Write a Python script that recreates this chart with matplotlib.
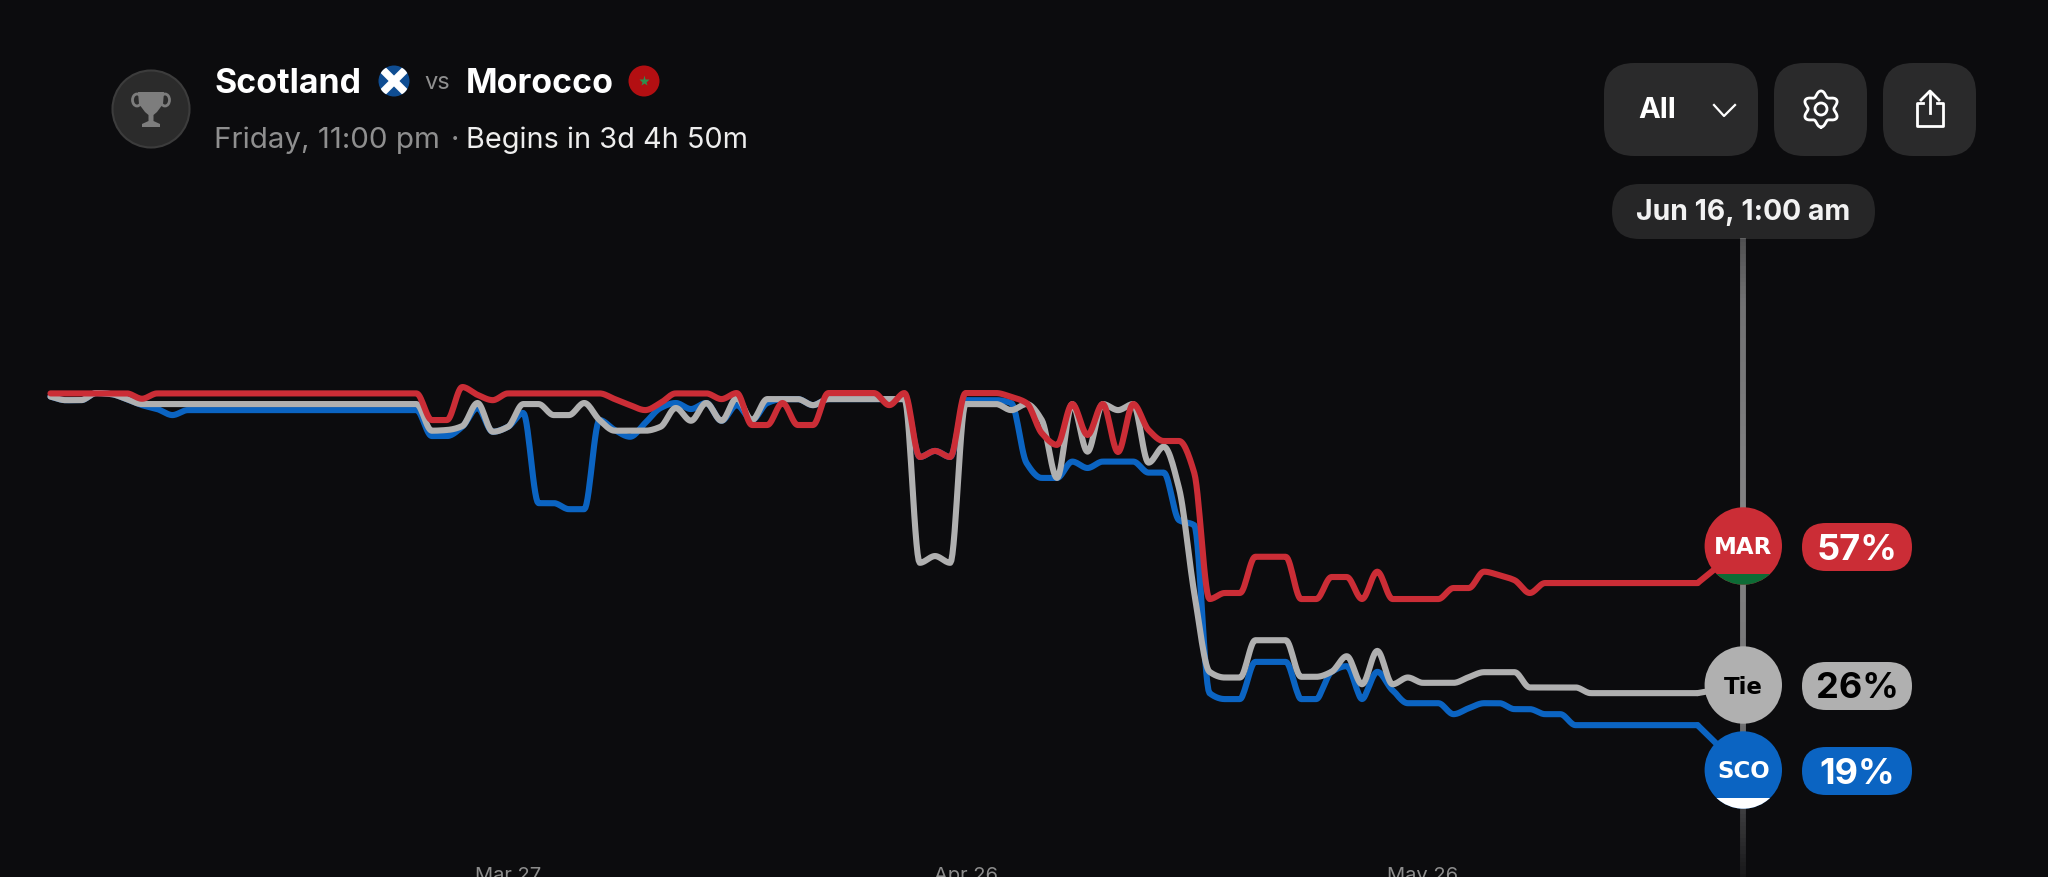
import numpy as np
import matplotlib
matplotlib.use('Agg')
import matplotlib.pyplot as plt
from matplotlib.patches import Circle, Rectangle, FancyBboxPatch, Polygon, Ellipse
from matplotlib.collections import LineCollection

plt.rcParams['font.family'] = ['Inter', 'DejaVu Sans']

BG = '#0c0c0e'
PANEL = '#2a2a2b'
RED = '#cb2d36'
BLUE = '#0b64c2'
GREY = '#b0b0b0'

# days relative to Mar 27
days = list(range(-30, 79))

morocco = [
    110.4, 110.4, 110.4, 110.4, 110.4, 110.4, 108.9, 110.4, 110.4, 110.4,
    110.4, 110.4, 110.4, 110.4, 110.4, 110.4, 110.4, 110.4, 110.4, 110.4,
    110.4, 110.4, 110.4, 110.4, 110.4, 102.9, 102.9, 112.2, 110.0, 108.5,
    110.4, 110.4, 110.4, 110.4, 110.4, 110.4, 110.4, 108.8, 107.1, 105.7,
    107.7, 110.4, 110.4, 110.4, 108.8, 110.5, 101.5, 101.5, 107.7, 101.5,
    101.5, 110.5, 110.5, 110.5, 110.5, 107.1, 110.5, 92.5, 94.2, 92.5,
    110.5, 110.5, 110.5, 109.4, 107.7, 99.2, 95.9, 107.4, 98.7, 107.4,
    93.9, 107.4, 100.1, 97.0, 97.0, 88.0, 52.5, 54.2, 54.2, 64.4,
    64.4, 64.4, 52.5, 52.5, 58.7, 58.7, 52.5, 60.2, 52.5, 52.5,
    52.5, 52.5, 55.6, 55.6, 60.2, 59.2, 57.8, 54.2, 57, 57,
    57, 57, 57, 57, 57, 57, 57, 57, 57,
]
tie = [
    109.5, 108.5, 108.5, 110.5, 110.2, 108.8, 107.4, 107.4, 107.4, 107.4,
    107.4, 107.4, 107.4, 107.4, 107.4, 107.4, 107.4, 107.4, 107.4, 107.4,
    107.4, 107.4, 107.4, 107.4, 107.4, 99.9, 100.1, 101.2, 107.7, 99.6,
    101.0, 107.4, 107.4, 104.3, 104.3, 107.7, 102.9, 99.9, 99.9, 99.9,
    101.0, 106.3, 102.7, 107.7, 102.7, 109.1, 102.9, 108.8, 108.8, 108.8,
    107.1, 108.8, 108.8, 108.8, 108.8, 108.8, 108.8, 62.7, 64.6, 62.7,
    107.4, 107.4, 107.4, 105.7, 107.4, 102.9, 86.6, 107.4, 94.0, 107.4,
    105.7, 107.4, 90.9, 95.4, 83.7, 54.2, 32.0, 30.4, 30.4, 40.9,
    40.9, 40.9, 30.6, 30.6, 32.0, 36.4, 28.5, 37.9, 28.5, 30.4,
    28.9, 28.9, 28.9, 30.5, 31.9, 31.9, 31.9, 27.6, 27.6, 27.6,
    27.6, 26, 26, 26, 26, 26, 26, 26, 26,
]
scotland = [
    109.5, 108.5, 108.5, 110.5, 110.2, 108.8, 107.1, 106.0, 104.3, 105.7,
    105.7, 105.7, 105.7, 105.7, 105.7, 105.7, 105.7, 105.7, 105.7, 105.7,
    105.7, 105.7, 105.7, 105.7, 105.7, 98.4, 98.4, 101.0, 106.3, 99.6,
    101.0, 104.9, 79.5, 79.5, 77.8, 77.8, 102.9, 100.1, 98.2, 102.1,
    106.3, 107.7, 106.0, 107.7, 102.7, 107.1, 102.9, 107.7, 108.8, 108.8,
    107.1, 108.8, 108.8, 108.8, 108.8, 108.8, 108.8, 92.5, 94.2, 92.5,
    108.5, 108.5, 108.5, 107.7, 90.8, 86.6, 86.6, 91.2, 89.4, 91.2,
    91.2, 91.2, 88.1, 88.1, 74.7, 73.3, 26.0, 24.7, 24.7, 34.8,
    34.8, 34.8, 24.7, 24.7, 32.0, 33.6, 24.7, 32.0, 26.8, 23.8,
    23.8, 23.8, 21.4, 22.7, 23.8, 23.8, 22.5, 22.5, 21.4, 21.4,
    19, 19, 19, 19, 19, 19, 19, 19, 19,
]

tick_days = [0, 30, 60]
tick_labels = ['Mar 27', 'Apr 26', 'May 26']
hover_day = 81
hover_label = 'Jun 16, 1:00 am'


def smooth(x, y, n=14):
    # monotone cubic through the points so the corners come out round
    x = np.asarray(x, dtype=float)
    y = np.asarray(y, dtype=float)
    h = np.diff(x)
    s = np.diff(y) / h
    m = np.zeros(len(y))
    m[0] = s[0]
    m[-1] = s[-1]
    for i in range(1, len(y) - 1):
        if s[i - 1] * s[i] > 0:
            m[i] = 2 * s[i - 1] * s[i] / (s[i - 1] + s[i])
    t = np.linspace(0, 1, n, endpoint=False)[:, None]
    h00 = 2 * t**3 - 3 * t**2 + 1
    h10 = t**3 - 2 * t**2 + t
    h01 = -2 * t**3 + 3 * t**2
    h11 = t**3 - t**2
    xs = (x[:-1] + t * h).T.ravel()
    ys = (h00 * y[:-1] + h10 * h * m[:-1] + h01 * y[1:] + h11 * h * m[1:]).T.ravel()
    return np.append(xs, x[-1]), np.append(ys, y[-1])


def scale_fwd(v):
    v = np.asarray(v, dtype=float)
    return np.where(v >= 26, (v - 26) * 3.55, (v - 26) * 4.57)


def scale_inv(p):
    p = np.asarray(p, dtype=float)
    return np.where(p >= 0, p / 3.55 + 26, p / 4.57 + 26)


fig = plt.figure(figsize=(20.48, 8.77), dpi=100, facecolor=BG)

# chart area, 240 to 860 px from the top and the full width
ax = fig.add_axes([0, 17 / 877, 1, 620 / 877], facecolor='none', zorder=1)
ax.set_yscale('function', functions=(scale_fwd, scale_inv))
ax.set_xlim(-33.31, 100.98)
ax.set_ylim(-10.5, 153.6)
for sp in ax.spines.values():
    sp.set_visible(False)
ax.set_yticks([])
ax.minorticks_off()
ax.tick_params(axis='y', which='both', left=False, labelleft=False)
ax.set_xticks(tick_days)
ax.set_xticklabels(tick_labels, fontsize=14.5, color='#8c8c8c')
ax.tick_params(axis='x', length=0, pad=5)

series = [(scotland, BLUE), (tie, GREY), (morocco, RED)]
for vals, col in series:
    sx, sy = smooth(days, vals)
    ax.plot(sx, sy, color=col, lw=4.4, solid_joinstyle='round', solid_capstyle='round')

# overlay in pixel units for the header, buttons and badges
ui = fig.add_axes([0, 0, 1, 1], facecolor='none', zorder=2)
ui.set_xlim(0, 2048)
ui.set_ylim(877, 0)
ui.axis('off')


def panel(x0, y0, x1, y1, r, col=PANEL):
    ui.add_patch(FancyBboxPatch((x0, y0), x1 - x0, y1 - y0,
                                boxstyle='round,pad=0,rounding_size=%g' % r,
                                fc=col, ec='none'))


# header
ui.add_patch(Circle((151, 109), 38.5, fc='#2b2b2b', ec='#3c3c3c', lw=1.5))
cup = [(138, 92), (164, 92), (163, 104), (157, 112), (153.5, 115), (153.5, 121), (160, 124),
       (160, 127), (142, 127), (142, 124), (148.5, 121), (148.5, 115), (145, 112), (139, 104)]
ui.add_patch(Polygon(cup, fc='#7d7d7d', ec='none'))
ui.add_patch(Ellipse((137, 100), 9, 12, fc='none', ec='#7d7d7d', lw=2))
ui.add_patch(Ellipse((165, 100), 9, 12, fc='none', ec='#7d7d7d', lw=2))

ui.text(214, 84, 'Scotland', color='white', fontsize=24.4, fontweight='bold', va='center')
ui.text(424, 83, 'vs', color='#8f8f8f', fontsize=17, va='center')
ui.text(466, 84, 'Morocco', color='white', fontsize=24.4, fontweight='bold', va='center')
ui.text(214, 140, 'Friday, 11:00 pm', color='#8f8f8f', fontsize=21.3, va='center')
ui.text(451, 140, '·', color='#8f8f8f', fontsize=21, va='center')
ui.text(466, 140, 'Begins in 3d 4h 50m', color='#eeeeee', fontsize=20.8, va='center')

flag = Circle((394, 81), 15.5, fc='#0f4d92', ec='none')
ui.add_patch(flag)
for xs, ys in [((380, 408), (67, 95)), ((380, 408), (95, 67))]:
    l, = ui.plot(xs, ys, color='white', lw=5.5, solid_capstyle='butt')
    l.set_clip_path(flag)
ui.add_patch(Circle((644, 81), 15.5, fc='#b30f12', ec='none'))
ui.plot([644], [81], marker='*', ms=8, color='#2f8f4e', mec='none')

# buttons
panel(1604, 63, 1758, 156, 30)
panel(1774, 63, 1867, 156, 30)
panel(1883, 63, 1976, 156, 30)
ui.text(1657, 111, 'All', color='white', fontsize=21, fontweight='bold', ha='center', va='center')
ui.plot([1714, 1724, 1735], [105, 116, 105], color='white', lw=1.6)

t = np.linspace(0, 2 * np.pi, 200)
r = 15.5 + 2.6 * np.cos(6 * t)
ui.plot(1821 + r * np.sin(t), 109 + r * np.cos(t), color='white', lw=2)
ui.add_patch(Circle((1821, 109), 6, fc='none', ec='white', lw=2))

ui.plot([1923, 1917, 1917, 1943, 1943, 1937], [103, 103, 126, 126, 103, 103],
        color='white', lw=2, solid_joinstyle='round')
ui.plot([1930, 1930], [92, 113], color='white', lw=2)
ui.plot([1921, 1930, 1939], [100, 91, 100], color='white', lw=2)

# hover line fading out to the bottom, x follows the chart scale
hover_x = ui.transData.inverted().transform(ax.transData.transform((hover_day, 50)))[0]
seg_y = np.arange(238, 877, 4)
segs = [[(hover_x, a), (hover_x, a + 4)] for a in seg_y]
seg_a = np.interp(seg_y, [238, 300, 520, 720, 877], [0.28, 0.42, 0.5, 0.42, 0.04])
ui.add_collection(LineCollection(segs, colors=[(1, 1, 1, a) for a in seg_a], linewidths=4.2,
                                 capstyle='butt'))

panel(1612, 184, 1875, 239, 27.5, '#262627')
ui.text(hover_x, 213, hover_label, color='#f2f2f2', fontsize=20.4, fontweight='bold',
        ha='center', va='center')

# badges with the stub from the last point of each line
badges = [
    ('MAR', morocco, 546, RED, '#0d6b35', 574, 'white', 2),
    ('Tie', tie, 685, GREY, None, 0, 'black', 3),
    ('SCO', scotland, 770, BLUE, 'white', 798, 'white', 2),
]
for name, vals, cy, col, band, band_y, txt, dy in badges:
    end = ui.transData.inverted().transform(ax.transData.transform((days[-1], vals[-1])))
    ui.plot([end[0], hover_x], [end[1], cy], color=col, lw=4.4, solid_capstyle='round')

for name, vals, cy, col, band, band_y, txt, dy in badges:
    disc = Circle((hover_x, cy), 38.7, fc=col, ec='none', zorder=3)
    ui.add_patch(disc)
    if band:
        rect = Rectangle((hover_x - 40, band_y), 80, 40, fc=band, ec='none', zorder=3.1)
        ui.add_patch(rect)
        rect.set_clip_path(disc)
    ui.text(hover_x, cy + dy, name, color=txt, fontsize=16.5, fontweight='bold', ha='center',
            va='center', family='DejaVu Sans', zorder=4)

pills = [(morocco, 547, RED, 'white'), (tie, 686, GREY, 'black'), (scotland, 771, BLUE, 'white')]
for vals, cy, col, txt in pills:
    panel(1802, cy - 24, 1912, cy + 24, 24, col)
    ui.text(1857, cy + 3, '%d%%' % round(vals[-1]), color=txt, fontsize=26, fontweight='bold',
            ha='center', va='center')

fig.savefig('out.png', dpi=100, facecolor=BG)
